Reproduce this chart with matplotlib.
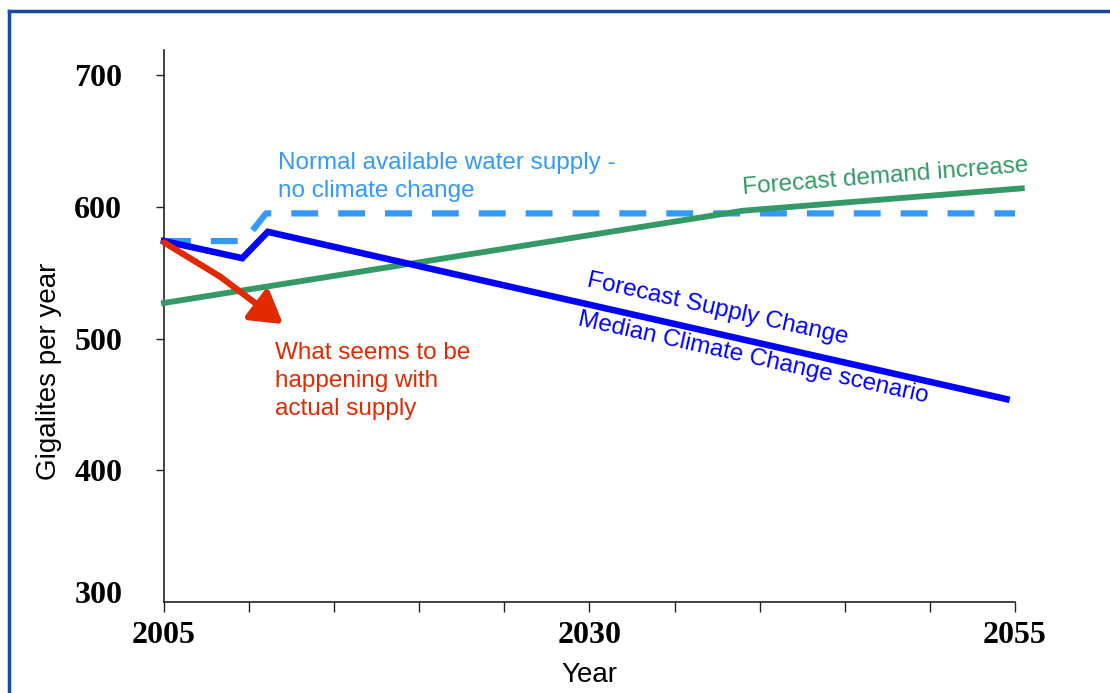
import matplotlib.pyplot as plt
from matplotlib.lines import Line2D
from matplotlib.transforms import ScaledTranslation

# Water supply / demand scenarios, gigalitres per year
normal_years = [2005, 2009.7, 2011, 2055]
normal_supply = [574, 574, 595, 595]

forecast_years = [2005, 2009.6, 2011.1, 2054.5]
forecast_supply = [574, 561, 581, 454]

demand_years = [2005, 2039, 2052.5, 2055.4]
demand = [527, 597, 611, 614]

actual_years = [2005, 2008.3, 2012.0]
actual_supply = [573, 547, 511]

y_ticks = [300, 400, 500, 600, 700]
x_ticks = list(range(2005, 2056, 5))
x_labels = ['2005' if y == 2005 else '2030' if y == 2030 else '2055' if y == 2055 else '' for y in x_ticks]

LIGHT_BLUE = '#3399FF'
BLUE = '#0000FF'
GREEN = '#339966'
RED = '#E22A00'
FRAME = '#1A47A8'

plt.rcParams['font.family'] = ['Liberation Sans', 'DejaVu Sans']

fig = plt.figure(figsize=(11.1, 6.93), dpi=100)
ax = fig.add_axes([0.1477, 0.1313, 0.9144 - 0.1477, 0.9278 - 0.1313])

# Lines
ax.plot(normal_years, normal_supply, color=LIGHT_BLUE, linewidth=4.5,
        dashes=(4.3, 3.2), dash_capstyle='butt', clip_on=False, zorder=2)
ax.plot(demand_years, demand, color=GREEN, linewidth=4.2, clip_on=False, zorder=3)
ax.plot(forecast_years, forecast_supply, color=BLUE, linewidth=4.7,
        solid_joinstyle='miter', clip_on=False, zorder=4)
ax.plot(actual_years[:2], actual_supply[:2], color=RED, linewidth=4.5,
        solid_capstyle='round', clip_on=False, zorder=5)
ax.annotate('', xy=(actual_years[2], actual_supply[2]),
            xytext=(actual_years[1], actual_supply[1]),
            arrowprops=dict(arrowstyle='-|>,head_length=0.75,head_width=0.45',
                            color=RED, lw=4.5, mutation_scale=25,
                            shrinkA=0, shrinkB=0), zorder=5)

# Annotations
ax.text(2011.7, 622.5, 'Normal available water supply -\nno climate change',
        color=LIGHT_BLUE, fontsize=17.5, ha='left', va='center', linespacing=1.33)
ax.text(2047.4, 623, 'Forecast demand increase', color=GREEN, fontsize=17.5,
        ha='center', va='center', rotation=4.5, rotation_mode='anchor')
ax.text(2037.5, 522, 'Forecast Supply Change', color=BLUE, fontsize=17.5,
        ha='center', va='center', rotation=-12.5, rotation_mode='anchor')
ax.text(2039.6, 485, 'Median Climate Change scenario', color=BLUE, fontsize=17.5,
        ha='center', va='center', rotation=-12.5, rotation_mode='anchor')
ax.text(2011.5, 497, 'What seems to be\nhappening with\nactual supply',
        color=RED, fontsize=17.5, ha='left', va='top', linespacing=1.35)

# Axes styling
ax.set_xlim(2005, 2055)
ax.set_ylim(300, 719)
for side in ['top', 'right']:
    ax.spines[side].set_visible(False)
for side in ['left', 'bottom']:
    ax.spines[side].set_linewidth(1.2)
    ax.spines[side].set_color('#222222')

ax.set_yticks(y_ticks)
ax.set_yticklabels([str(v) for v in y_ticks])
ax.set_xticks(x_ticks)
ax.set_xticklabels(x_labels)
ax.tick_params(axis='y', length=6, width=1, pad=24, colors='#222222')
ax.tick_params(axis='x', length=7, width=1, pad=7, colors='#222222')
for lbl in ax.get_yticklabels() + ax.get_xticklabels():
    lbl.set_fontfamily('Liberation Serif')
    lbl.set_fontweight('bold')
    lbl.set_fontsize(23)
    lbl.set_color('black')

# bottom y tick sits on the x axis: hide the mark and lift the label
ax.yaxis.get_major_ticks()[0].tick1line.set_visible(False)
lab300 = ax.get_yticklabels()[0]
lab300.set_transform(lab300.get_transform() + ScaledTranslation(0, 7 / 72, fig.dpi_scale_trans))

ax.set_ylabel('Gigalites per year', fontsize=20)
ax.yaxis.set_label_coords(-0.12, 0.418)
ax.set_xlabel('Year', fontsize=20)
ax.xaxis.set_label_coords(0.5, -0.109)

# Blue frame along top and left
fig.add_artist(Line2D([9 / 1110, 1.0], [1 - 11 / 693, 1 - 11 / 693],
                      color=FRAME, linewidth=2.5, transform=fig.transFigure))
fig.add_artist(Line2D([9 / 1110, 9 / 1110], [0, 1 - 11 / 693],
                      color=FRAME, linewidth=2.5, transform=fig.transFigure))

fig.savefig('out.png', dpi=100)
